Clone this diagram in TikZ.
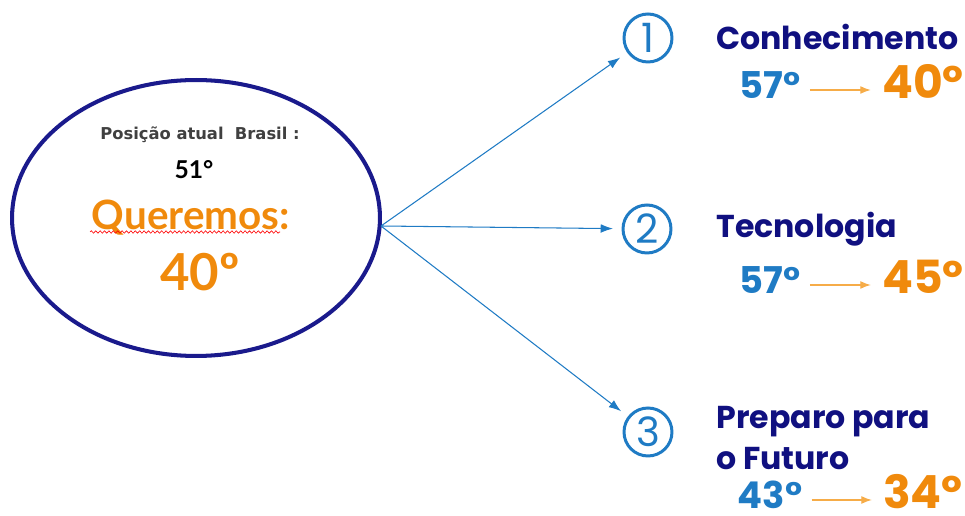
\documentclass[tikz,border=0pt]{standalone}
\usepackage{fontspec}
\setmainfont{Lato}
\newfontfamily\titlefont{Poppins}
\newfontfamily\smallfont{DejaVu Sans}
\usetikzlibrary{arrows.meta,shapes.geometric,decorations.pathmorphing}
\definecolor{navy}{HTML}{1A1A8C}
\definecolor{titleblue}{HTML}{101080}
\definecolor{ringblue}{HTML}{1F7BC4}
\definecolor{deg}{HTML}{F08A0C}
\definecolor{paledeg}{HTML}{F6AC48}

\tikzset{
  goal/.style={ellipse, draw=navy, line width=2.3pt, minimum width=7.36cm, minimum height=5.52cm},
  numring/.style={circle, draw=ringblue, line width=1.7pt, minimum size=0.96cm, inner sep=0pt,
    outer sep=0.2cm, text=ringblue, font=\titlefont\fontsize{23}{23}\selectfont},
  area/.style={anchor=west, inner sep=0pt, text=titleblue, align=left,
    font=\titlefont\bfseries\fontsize{18}{23}\selectfont},
  branch/.style={draw=ringblue, line width=0.6pt, -{Latex[length=7pt,width=5pt]}},
  growth/.style={draw=paledeg, line width=0.7pt, -{Latex[length=6pt,width=4.5pt]},
    shorten <=0.18cm, shorten >=0.22cm},
  oldval/.style={anchor=base, inner sep=0pt, text depth=0pt, text=ringblue,
    font=\titlefont\bfseries\fontsize{21}{21}\selectfont},
  newval/.style={anchor=base, inner sep=0pt, text depth=0pt, text=deg,
    font=\titlefont\bfseries\fontsize{26}{26}\selectfont}
}

\begin{document}
\begin{tikzpicture}[x=0.02cm,y=-0.02cm]
  \useasboundingbox (0,0) rectangle (965,516);
  \node[goal] (goal) at (196,218) {};
  \node[text=black!75, font=\smallfont\bfseries\fontsize{9.3}{11}\selectfont] (pos) at (200,135) {Posição atual~~Brasil :};
  \node[font=\bfseries\fontsize{14}{15}\selectfont] (now) at (194,170) {51{}°};
  \node[text=deg, font=\bfseries\fontsize{23}{24}\selectfont] (want) at (191,218) {Queremos:};
  \node[text=deg, font=\bfseries\fontsize{29}{30}\selectfont] (target) at (200,272) {40{}º};
  \draw[red, line width=0.35pt, decorate, decoration={snake, amplitude=0.7pt, segment length=2.5pt}]
    (90,232) -- (280,232);

  \coordinate (src) at (381,226);
  \node[numring] (c1) at (648,38) {1};
  \node[numring] (c2) at (647,229) {2};
  \node[numring] (c3) at (648,432) {3};
  \foreach \i in {1,2,3}
    \draw[branch] (src) -- (c\i);

  \node[area] (t1) at (716,37) {Conhecimento};
  \node[area] (t2) at (716,229) {Tecnologia};
  \node[area] (t3) at (716,438) {Preparo para\\o Futuro};

  \foreach \i/\y/\oldv/\newv in {1/99/57/40, 2/294/57/45, 3/509/43/34}{
    \node[oldval] (from\i) at (770,\y) {\oldv{}°};
    \node[newval] (to\i) at (923,\y) {\newv{}º};
    \draw[growth] (from\i.east |- 0,\y-9) -- (to\i.west |- 0,\y-9);
  }
\end{tikzpicture}
\end{document}
